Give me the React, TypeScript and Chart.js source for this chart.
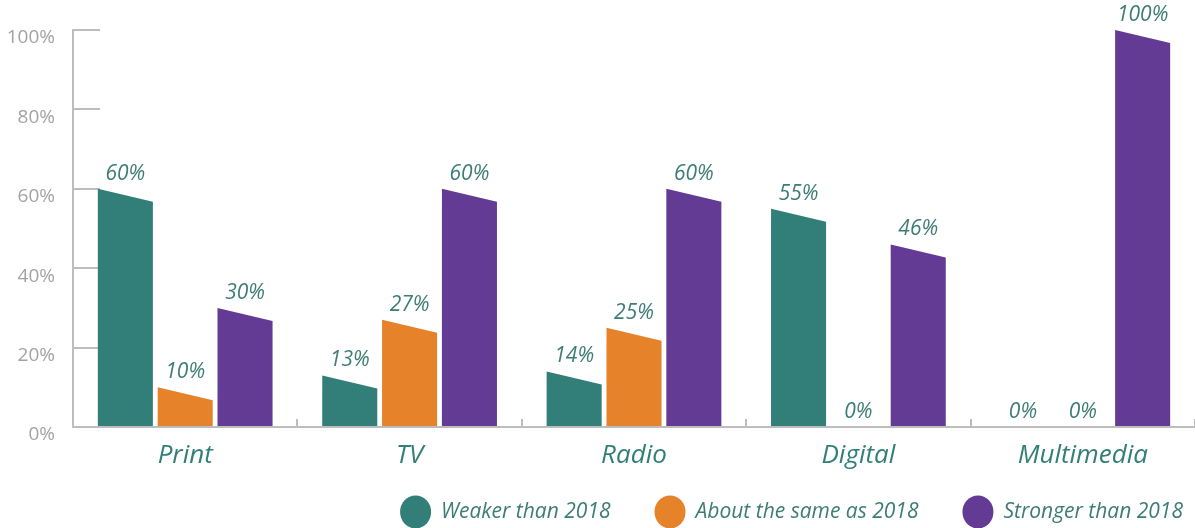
import React, { useEffect, useRef } from "react";
import { Chart, registerables } from "chart.js";

Chart.register(...registerables);

const categories = ["Print", "TV", "Radio", "Digital", "Multimedia"];
const seriesNames = ["Weaker than 2018", "About the same as 2018", "Stronger than 2018"];
const weaker = [60, 13, 14, 55, 0];
const same = [10, 27, 25, 0, 0];
const stronger = [30, 60, 60, 46, 100];
const seriesColors = ["#317f78", "#e6832a", "#643b94"];
const yTicks = [0, 20, 40, 60, 80, 100];

const TEAL_TEXT = "#3e7c76";
const FONT = "'Open Sans', 'Noto Sans', sans-serif";

const slantBars = {
  id: "slantBars",
  afterDatasetsDraw(chart: any) {
    const ctx = chart.ctx;
    const drop = 13;
    chart.data.datasets.forEach((ds: any, i: number) => {
      const meta = chart.getDatasetMeta(i);
      meta.data.forEach((el: any, j: number) => {
        const v = ds.data[j];
        const { x, y, base, width } = el.getProps(["x", "y", "base", "width"], true);
        const l = x - width / 2;
        const r = x + width / 2;
        if (v > 0) {
          const d = Math.min(drop, (base - y) * 0.9);
          ctx.save();
          ctx.fillStyle = seriesColors[i];
          ctx.beginPath();
          ctx.moveTo(l, base);
          ctx.lineTo(l, y);
          ctx.lineTo(r, y + d);
          ctx.lineTo(r, base);
          ctx.closePath();
          ctx.fill();
          ctx.restore();
        }
        ctx.save();
        ctx.fillStyle = TEAL_TEXT;
        ctx.font = "italic 21px " + FONT;
        ctx.textAlign = "center";
        ctx.textBaseline = "middle";
        ctx.fillText(v + "%", x, y - 15);
        ctx.restore();
      });
    });
  },
};

const customLegend = {
  id: "customLegend",
  afterDraw(chart: any) {
    const ctx = chart.ctx;
    ctx.save();
    ctx.font = "italic 21px " + FONT;
    ctx.textBaseline = "middle";
    ctx.textAlign = "left";
    const cy = 512;
    const radius = 15.5;
    const textGap = 10;
    const itemGap = 44;
    let right = chart.width - 12;
    for (let i = seriesNames.length - 1; i >= 0; i--) {
      const w = ctx.measureText(seriesNames[i]).width;
      const tx = right - w;
      ctx.fillStyle = TEAL_TEXT;
      ctx.fillText(seriesNames[i], tx, cy);
      const cx = tx - textGap - radius;
      ctx.fillStyle = seriesColors[i];
      ctx.beginPath();
      ctx.ellipse(cx, cy, radius, radius + 1, 0, 0, Math.PI * 2);
      ctx.fill();
      right = cx - radius - itemGap;
    }
    ctx.restore();
  },
};

export default function App() {
  const ref = useRef<HTMLCanvasElement | null>(null);
  useEffect(() => {
    if (!ref.current) return;
    const chart = new Chart(ref.current, {
      type: "bar",
      data: {
        labels: categories,
        datasets: [weaker, same, stronger].map((d, i) => ({
          label: seriesNames[i],
          data: d,
          backgroundColor: "rgba(0,0,0,0)",
          borderWidth: 0,
          categoryPercentage: 0.8,
          barPercentage: 0.92,
        })),
      },
      options: {
        animation: false,
        responsive: false,
        layout: { padding: { top: 30, bottom: 59, left: 0, right: 0 } },
        plugins: {
          legend: { display: false },
          tooltip: { enabled: false },
        },
        scales: {
          x: {
            offset: true,
            grid: {
              offset: true,
              drawOnChartArea: false,
              drawTicks: true,
              tickLength: -8,
              color: "#bdbdbd",
              lineWidth: 2,
            },
            border: { display: true, color: "#bdbdbd", width: 2 },
            ticks: {
              padding: 21,
              color: "#317f78",
              font: { family: FONT, size: 26, style: "italic" },
            },
            afterFit: (s: any) => {
              s.height = 42;
              s.paddingLeft = 0;
              s.paddingRight = 0;
            },
          },
          y: {
            min: 0,
            max: 100,
            afterBuildTicks: (s: any) => {
              s.ticks = yTicks.map((v) => ({ value: v }));
            },
            grid: {
              drawOnChartArea: false,
              drawTicks: true,
              tickLength: -27,
              color: "#bdbdbd",
              lineWidth: 2,
            },
            border: { display: true, color: "#bdbdbd", width: 2 },
            ticks: {
              padding: 45,
              labelOffset: 8,
              color: "#a3a3a3",
              font: { family: FONT, size: 19 },
              callback: (v: any) => v + "%",
            },
            afterFit: (s: any) => {
              s.width = 73;
              s.paddingTop = 0;
              s.paddingBottom = 0;
            },
          },
        },
      },
      plugins: [slantBars, customLegend],
    });
    return () => chart.destroy();
  }, []);
  return (
    <div style={{ position: "fixed", left: 0, top: 0, width: 1195, height: 528, background: "#fff" }}>
      <canvas ref={ref} width={1195} height={528} style={{ display: "block" }} />
    </div>
  );
}
